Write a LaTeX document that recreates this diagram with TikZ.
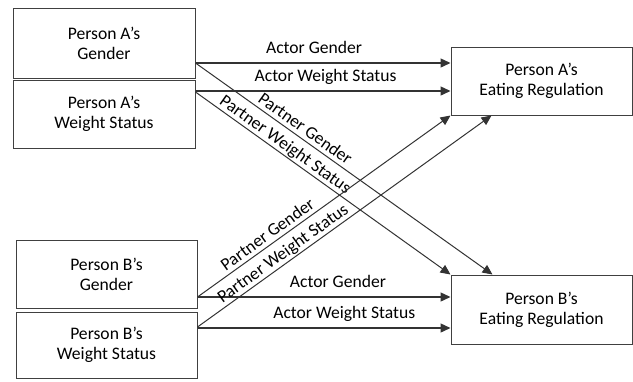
\documentclass[tikz,border=0pt]{standalone}
\usepackage{fontspec}
\setmainfont{Carlito}
\usetikzlibrary{arrows.meta,calc}

\tikzset{
  var/.style={draw=black!75, line width=0.5pt, align=center, inner sep=0pt,
    font=\fontsize{8.8}{10}\selectfont},
  effect/.style={draw=black!80, line width=0.5pt, -{Triangle[length=5pt,width=4.5pt]}},
  actor/.style={effect, line width=0.7pt},
  lbl/.style={font=\fontsize{8.8}{10}\selectfont, inner sep=2.5pt, text depth=2pt},
  plbl/.style={lbl, inner sep=1pt, text depth=1pt, sloped}
}

\begin{document}
\begin{tikzpicture}[x=0.5pt,y=-0.5pt]
\useasboundingbox (0,0) rectangle (633,381);

% person A
\node[var,minimum width=91pt,minimum height=35pt] (ag) at (104,43) {Person A’s\\Gender};
\node[var,minimum width=91pt,minimum height=34pt] (aw) at (104,114) {Person A’s\\Weight Status};
\node[var,minimum width=90.5pt,minimum height=34pt] (aer) at (541.5,81) {Person A’s\\Eating Regulation};

% person B
\node[var,minimum width=90.5pt,minimum height=34pt] (bg) at (106.5,274) {Person B’s\\Gender};
\node[var,minimum width=90.5pt,minimum height=33pt] (bw) at (106.5,345) {Person B’s\\Weight Status};
\node[var,minimum width=90.5pt,minimum height=34.5pt] (ber) at (541.5,309.5) {Person B’s\\Eating Regulation};

% actor effects
\draw[actor] ($(ag.east)+(0,20)$) -- node[lbl,above,pos=0.465] {Actor Gender} ($(aer.west)+(0,-18)$);
\draw[actor] ($(aw.east)+(0,-23)$) -- node[lbl,above,pos=0.51] {Actor Weight Status} ($(aer.west)+(0,10)$);
\draw[actor] ($(bg.east)+(0,23)$) -- node[lbl,above,pos=0.555] {Actor Gender} ($(ber.west)+(0,-12.5)$);
\draw[actor] ($(bw.east)+(0,-17)$) -- node[lbl,above,pos=0.58] {Actor Weight Status} ($(ber.west)+(0,18.5)$);

% partner effects
\draw[effect] ($(ag.east)+(0,20)$) -- node[plbl,above,pos=0.35] {Partner Gender} ($(ber.north west)+(42,0)$);
\draw[effect] ($(aw.east)+(0,-22)$) -- node[plbl,above,pos=0.33] {Partner Weight Status} (ber.north west);
\draw[effect] ($(bg.east)+(0,23)$) -- node[plbl,above,pos=0.30] {Partner Gender} (aer.south west);
\draw[effect] ($(bw.east)+(0,-18)$) -- node[plbl,above,pos=0.31] {Partner Weight Status} ($(aer.south west)+(41,0)$);
\end{tikzpicture}
\end{document}
